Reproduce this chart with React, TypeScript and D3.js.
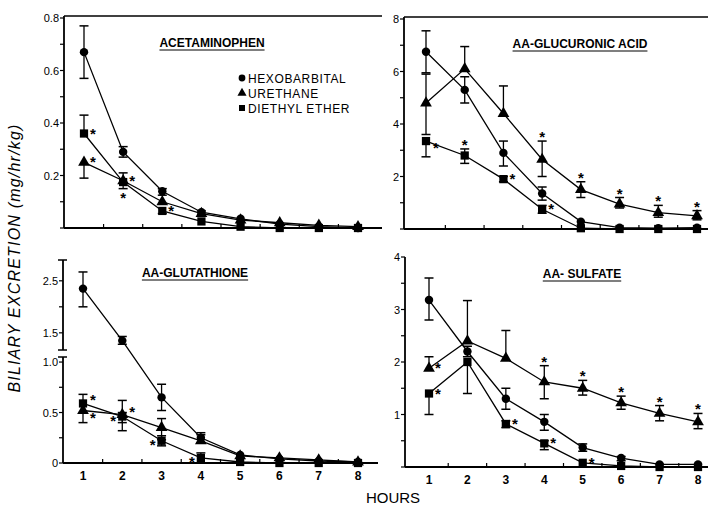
import React, { useRef, useEffect } from "react";
import * as d3 from "d3";

const hours = [1, 2, 3, 4, 5, 6, 7, 8];
const seriesNames = ["HEXOBARBITAL", "URETHANE", "DIETHYL ETHER"];
const panelTitles = ["ACETAMINOPHEN", "AA-GLUCURONIC ACID", "AA-GLUTATHIONE", "AA- SULFATE"];
const xTickLabels = ["1", "2", "3", "4", "5", "6", "7", "8"];

// acetaminophen (mg/hr/kg); up/dn = error bar ends, null = none drawn
const acetHex = [0.67, 0.29, 0.14, 0.06, 0.035, 0.015, 0.005, 0];
const acetHexUp = [0.77, 0.31, 0.15, 0.065, null, null, null, null];
const acetHexDn = [0.57, 0.27, 0.125, 0.052, null, null, null, null];
const acetUre = [0.25, 0.18, 0.1, 0.055, 0.03, 0.02, 0.01, 0.005];
const acetUreUp = [null, 0.21, null, null, null, null, null, null];
const acetUreDn = [0.19, null, null, null, null, null, null, null];
const acetDie = [0.36, 0.175, 0.065, 0.025, 0.005, 0, 0, 0];
const acetDieUp = [0.43, null, null, null, null, null, null, null];
const acetDieDn = [null, 0.15, 0.055, null, null, null, null, null];
const acetUreStars = [[1, "r"], [2, "r"]];
const acetDieStars = [[1, "r"], [2, "b"], [3, "r"]];

// AA-glucuronic acid
const glucHex = [6.75, 5.3, 2.9, 1.35, 0.28, 0.05, 0.03, 0.05];
const glucHexUp = [7.55, 5.8, 3.35, 1.6, null, null, null, null];
const glucHexDn = [5.95, 4.8, 2.4, 1.1, null, null, null, null];
const glucUre = [4.8, 6.1, 4.4, 2.65, 1.5, 0.95, 0.62, 0.5];
const glucUreUp = [5.9, 6.95, 5.45, 3.35, 1.8, 1.2, 0.9, 0.7];
const glucUreDn = [3.6, null, null, 2.0, 1.2, 0.8, 0.45, 0.35];
const glucDie = [3.35, 2.8, 1.9, 0.75, 0.03, 0, 0, 0];
const glucDieUp = [null, 3.05, 2.0, 0.9, null, null, null, null];
const glucDieDn = [2.75, 2.5, 1.8, 0.6, null, null, null, null];
const glucUreStars = [[4, "a"], [5, "a"], [6, "a"], [7, "a"], [8, "a"]];
const glucDieStars = [[1, "rd"], [2, "a"], [3, "r"], [4, "r"]];

// AA-glutathione
const glutHex = [2.35, 1.35, 0.65, 0.25, 0.08, 0.04, 0.02, 0.01];
const glutHexUp = [2.67, 1.43, 0.78, 0.3, null, null, null, null];
const glutHexDn = [2.0, 1.28, 0.52, 0.2, null, null, null, null];
const glutUre = [0.52, 0.48, 0.35, 0.22, 0.07, 0.05, 0.03, 0.01];
const glutUreUp = [null, 0.62, 0.44, 0.28, null, null, null, null];
const glutUreDn = [0.4, 0.32, 0.23, null, null, null, null, null];
const glutDie = [0.59, 0.46, 0.22, 0.05, 0.01, 0, 0, 0];
const glutDieUp = [0.68, 0.5, 0.27, 0.1, null, null, null, null];
const glutDieDn = [null, 0.4, 0.17, 0, null, null, null, null];
const glutUreStars = [[1, "rd"], [2, "ru"]];
const glutDieStars = [[1, "ru"], [2, "l"], [3, "l"], [4, "l"]];

// AA-sulfate
const sulfHex = [3.18, 2.2, 1.3, 0.86, 0.37, 0.17, 0.05, 0.05];
const sulfHexUp = [3.6, 2.3, 1.5, 1.0, 0.44, 0.2, null, null];
const sulfHexDn = [2.8, 2.1, 1.1, 0.7, 0.3, 0.12, null, null];
const sulfUre = [1.88, 2.4, 2.07, 1.62, 1.5, 1.22, 1.02, 0.86];
const sulfUreUp = [2.1, 3.17, 2.6, 1.93, 1.65, 1.35, 1.17, 1.02];
const sulfUreDn = [null, null, null, 1.3, 1.37, 1.1, 0.88, 0.73];
const sulfDie = [1.4, 2.0, 0.82, 0.45, 0.08, 0.02, 0, 0];
const sulfDieUp = [null, null, 0.88, 0.5, null, null, null, null];
const sulfDieDn = [1.0, 1.4, 0.75, 0.33, null, null, null, null];
const sulfUreStars = [[1, "r"], [4, "a"], [5, "a"], [6, "a"], [7, "a"], [8, "a"]];
const sulfDieStars = [[1, "r"], [3, "r"], [4, "r"], [5, "r"]];

const symbols = [d3.symbolCircle, d3.symbolTriangle, d3.symbolSquare];
const symbolSizes = [56, 60, 68];

const mk = (v, up, dn, stars) => ({ v, up, dn, stars });

const panels = [
  {
    title: panelTitles[0], titleX: 212, titleY: 47,
    x: [84, 358], axisX: [64, 382], top: 16,
    y: d3.scaleLinear().domain([0, 0.8]).range([228, 18]),
    segs: [[0, 0.8]], ticks: d3.range(0, 0.81, 0.1), labels: [0.2, 0.4, 0.6, 0.8],
    fmt: d3.format(".1f"), xLabels: false,
    series: [
      mk(acetHex, acetHexUp, acetHexDn, []),
      mk(acetUre, acetUreUp, acetUreDn, acetUreStars),
      mk(acetDie, acetDieUp, acetDieDn, acetDieStars),
    ],
  },
  {
    title: panelTitles[1], titleX: 580, titleY: 48,
    x: [426, 697], axisX: [404, 708], top: 17,
    y: d3.scaleLinear().domain([0, 8]).range([229, 19]),
    segs: [[0, 8]], ticks: d3.range(0, 9, 1), labels: [2, 4, 6, 8],
    fmt: d3.format("d"), xLabels: false,
    series: [
      mk(glucHex, glucHexUp, glucHexDn, []),
      mk(glucUre, glucUreUp, glucUreDn, glucUreStars),
      mk(glucDie, glucDieUp, glucDieDn, glucDieStars),
    ],
  },
  {
    title: panelTitles[2], titleX: 195, titleY: 277,
    x: [83, 358], axisX: [63, 378], top: null,
    y: d3.scaleLinear().domain([0, 1.05, 1.17, 2.9]).range([463, 357, 350, 260]),
    segs: [[0, 1.05], [1.17, 2.9]], ticks: [0, 0.25, 0.5, 0.75, 1.0, 1.5, 2.0, 2.5],
    labels: [0, 0.5, 1.0, 1.5, 2.5],
    fmt: (d) => (d === 0 ? "0" : d3.format(".1f")(d)), xLabels: true,
    series: [
      mk(glutHex, glutHexUp, glutHexDn, []),
      mk(glutUre, glutUreUp, glutUreDn, glutUreStars),
      mk(glutDie, glutDieUp, glutDieDn, glutDieStars),
    ],
  },
  {
    title: panelTitles[3], titleX: 582, titleY: 278,
    x: [429, 698], axisX: [405, 708], top: null,
    y: d3.scaleLinear().domain([0, 4]).range([467, 257]),
    segs: [[0, 4]], ticks: d3.range(0, 4.01, 0.5), labels: [1, 2, 3, 4],
    fmt: d3.format("d"), xLabels: true,
    series: [
      mk(sulfHex, sulfHexUp, sulfHexDn, []),
      mk(sulfUre, sulfUreUp, sulfUreDn, sulfUreStars),
      mk(sulfDie, sulfDieUp, sulfDieDn, sulfDieStars),
    ],
  },
];

const App = () => {
  const svgRef = useRef(null);

  useEffect(() => {
    const svg = d3.select(svgRef.current);
    svg.selectAll("*").remove();
    const font = "'Liberation Sans', Arial, sans-serif";

    panels.forEach((p) => {
      const g = svg.append("g");
      const x = d3.scaleLinear().domain([1, 8]).range(p.x);
      const y = p.y;
      const y0 = y(0);

      // frame: bottom axis, optional top line, left axis segments
      g.append("line")
        .attr("x1", p.axisX[0]).attr("x2", p.axisX[1])
        .attr("y1", y0).attr("y2", y0)
        .attr("stroke", "#000").attr("stroke-width", 2);
      if (p.top !== null) {
        g.append("line")
          .attr("x1", p.axisX[0]).attr("x2", p.axisX[1])
          .attr("y1", p.top).attr("y2", p.top)
          .attr("stroke", "#000").attr("stroke-width", 1.6);
      }
      p.segs.forEach((s, i) => {
        const yb = y(s[0]);
        const yt = p.top !== null ? p.top : y(s[1]);
        g.append("line")
          .attr("x1", p.axisX[0]).attr("x2", p.axisX[0])
          .attr("y1", yb).attr("y2", yt)
          .attr("stroke", "#000").attr("stroke-width", 1.8);
        if (p.segs.length > 1) {
          // break marks
          const ends = i === 0 ? [yt] : [yb, yt];
          ends.forEach((ye) => {
            g.append("line")
              .attr("x1", p.axisX[0] - 5).attr("x2", p.axisX[0] + 4)
              .attr("y1", ye).attr("y2", ye)
              .attr("stroke", "#000").attr("stroke-width", 1.5);
          });
        }
      });

      // y ticks
      g.selectAll(".yt").data(p.ticks).join("line")
        .attr("x1", p.axisX[0] - 4).attr("x2", p.axisX[0])
        .attr("y1", (d) => y(d)).attr("y2", (d) => y(d))
        .attr("stroke", "#000").attr("stroke-width", 1.2);
      g.selectAll(".yl").data(p.labels).join("text")
        .attr("x", p.axisX[0] - 5).attr("y", (d) => y(d) + 4)
        .attr("text-anchor", "end")
        .attr("font-family", font).attr("font-size", 11)
        .text((d) => p.fmt(d));

      // x ticks at half hours (inward)
      g.selectAll(".xt").data(d3.range(1.5, 8, 1)).join("line")
        .attr("x1", (d) => x(d)).attr("x2", (d) => x(d))
        .attr("y1", y0).attr("y2", y0 - 4)
        .attr("stroke", "#000").attr("stroke-width", 1.2);
      if (p.xLabels) {
        g.selectAll(".xl").data(hours).join("text")
          .attr("x", (d) => x(d)).attr("y", y0 + 17)
          .attr("text-anchor", "middle")
          .attr("font-family", font).attr("font-size", 12).attr("font-weight", "bold")
          .text((d, i) => xTickLabels[i]);
      }

      // title, underlined
      const t = g.append("text")
        .attr("x", p.titleX).attr("y", p.titleY)
        .attr("text-anchor", "middle")
        .attr("font-family", font).attr("font-size", 12).attr("font-weight", "bold")
        .text(p.title);
      const w = t.node().getComputedTextLength();
      g.append("line")
        .attr("x1", p.titleX - w / 2).attr("x2", p.titleX + w / 2)
        .attr("y1", p.titleY + 3).attr("y2", p.titleY + 3)
        .attr("stroke", "#000").attr("stroke-width", 1.2);

      const line = d3.line().x((d, i) => x(hours[i])).y((d) => y(d));

      p.series.forEach((s, si) => {
        g.append("path")
          .attr("d", line(s.v))
          .attr("fill", "none").attr("stroke", "#000").attr("stroke-width", 1.3);

        // error bars
        s.v.forEach((v, i) => {
          const cx = x(hours[i]);
          [s.up[i], s.dn[i]].forEach((e) => {
            if (e === null || e === undefined) return;
            g.append("line")
              .attr("x1", cx).attr("x2", cx).attr("y1", y(v)).attr("y2", y(e))
              .attr("stroke", "#000").attr("stroke-width", 1.3);
            g.append("line")
              .attr("x1", cx - 4.5).attr("x2", cx + 4.5).attr("y1", y(e)).attr("y2", y(e))
              .attr("stroke", "#000").attr("stroke-width", 1.5);
          });
        });

        g.selectAll(".m" + si).data(s.v).join("path")
          .attr("transform", (d, i) => `translate(${x(hours[i])},${y(d)})`)
          .attr("d", d3.symbol(symbols[si], symbolSizes[si]))
          .attr("fill", "#000");

        s.stars.forEach(([h, side]) => {
          const i = hours.indexOf(h);
          const cx = x(h);
          const cy = y(s.v[i]);
          let sx = cx, sy = cy;
          if (side === "r") { sx = cx + 9; sy = cy - 2; }
          if (side === "ru") { sx = cx + 10; sy = cy - 5; }
          if (side === "rd") { sx = cx + 10; sy = cy + 5; }
          if (side === "l") { sx = cx - 9; sy = cy + 2; }
          if (side === "a") { sy = y(s.up[i] ?? s.v[i]) - 6; }
          if (side === "b") { sy = y(s.dn[i] ?? s.v[i]) + 7; }
          g.append("text")
            .attr("x", sx).attr("y", sy + 7)
            .attr("text-anchor", "middle")
            .attr("font-family", font).attr("font-size", 15).attr("font-weight", "bold")
            .text("*");
        });
      });
    });

    // legend
    const lg = svg.append("g");
    seriesNames.forEach((n, i) => {
      const ly = 78 + i * 15;
      lg.append("path")
        .attr("transform", `translate(242,${ly})`)
        .attr("d", d3.symbol(symbols[i], 36))
        .attr("fill", "#000");
      lg.append("text")
        .attr("x", 248).attr("y", ly + 5)
        .attr("font-family", font).attr("font-size", 12)
        .attr("letter-spacing", 0.6)
        .text(n);
    });

    svg.append("text")
      .attr("transform", "translate(20,258) rotate(-90)")
      .attr("text-anchor", "middle")
      .attr("font-family", font).attr("font-size", 16).attr("font-style", "italic")
      .attr("letter-spacing", 1.2)
      .text("BILIARY  EXCRETION (mg/hr/kg)");

    svg.append("text")
      .attr("x", 393).attr("y", 503)
      .attr("text-anchor", "middle")
      .attr("font-family", font).attr("font-size", 15)
      .text("HOURS");
  }, []);

  return (
    <svg
      ref={svgRef}
      width={708}
      height={516}
      style={{ position: "absolute", left: 0, top: 0, background: "#fff" }}
    ></svg>
  );
};

export default App;
